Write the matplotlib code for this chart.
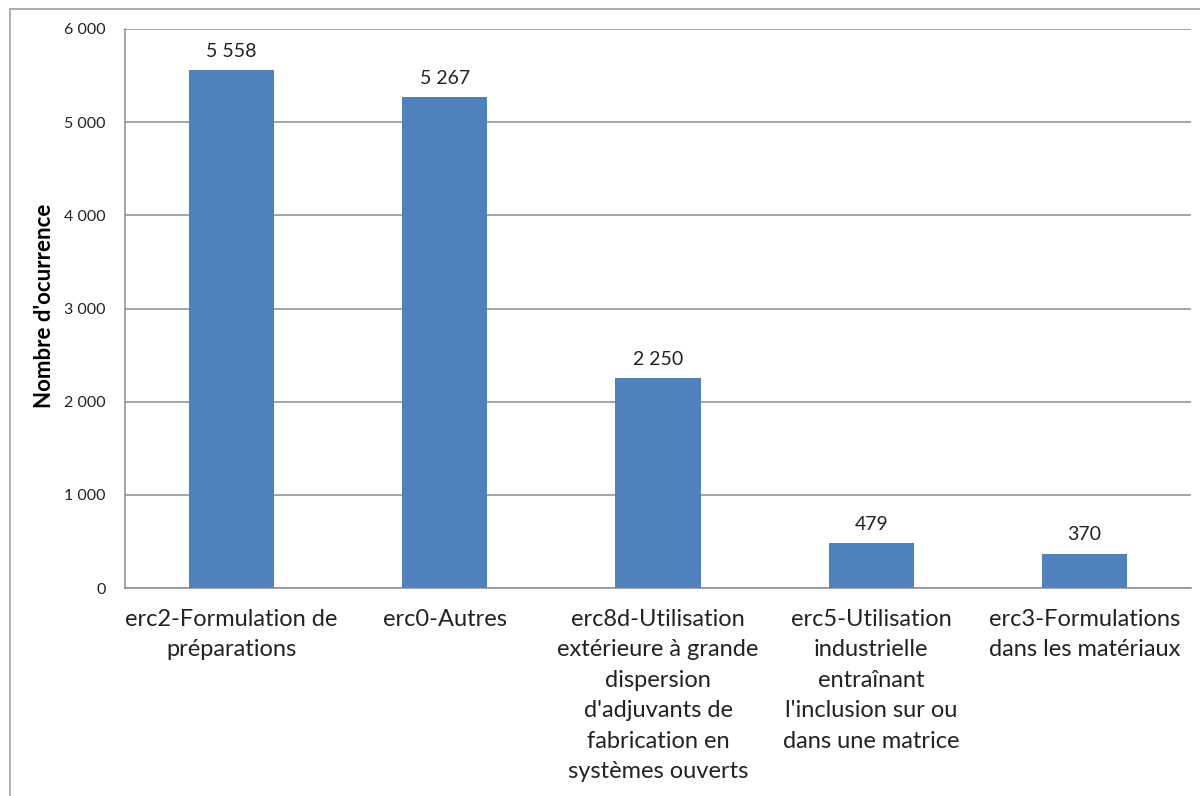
import matplotlib
matplotlib.use("Agg")
import matplotlib.pyplot as plt
from matplotlib.patches import Rectangle

categories = [
    "erc2-Formulation de\npréparations",
    "erc0-Autres",
    "erc8d-Utilisation\nextérieure à grande\ndispersion\nd'adjuvants de\nfabrication en\nsystèmes ouverts",
    "erc5-Utilisation\nindustrielle\nentraînant\nl'inclusion sur ou\ndans une matrice",
    "erc3-Formulations\ndans les matériaux",
]
values = [5558, 5267, 2250, 479, 370]
yticks = [0, 1000, 2000, 3000, 4000, 5000, 6000]


def fmt(v):
    return f"{v:,}".replace(",", " ")


plt.rcParams["font.family"] = ["Lato", "DejaVu Sans"]

W, H = 1200, 796
fig = plt.figure(figsize=(12, 7.96), dpi=100)
ax = fig.add_axes([125 / W, 1 - 588 / H, (1191 - 125) / W, (588 - 29) / H])

# outer chart frame
fig.patches.append(Rectangle((10 / W, -0.1), 1.2, 1 - 9 / H + 0.1,
                             transform=fig.transFigure, fill=False,
                             edgecolor="#a0a0a0", linewidth=1.2))

x = range(len(values))
ax.bar(x, values, width=0.4, color="#4f81bd", zorder=3)
for i, v in zip(x, values):
    ax.text(i, v + 110, fmt(v), ha="center", va="bottom", fontsize=14, color="#222222")

ax.set_xlim(-0.5, len(values) - 0.5)
ax.set_ylim(0, 6000)
ax.set_yticks(yticks)
ax.set_yticklabels([fmt(t) for t in yticks], fontsize=11.5, color="#222222")
ax.set_xticks(list(x))
ax.set_xticklabels(categories, fontsize=17, linespacing=1.56, va="top", color="#222222")
ax.tick_params(axis="x", length=0, pad=15)
ax.tick_params(axis="y", length=0, pad=14)
ax.yaxis.grid(True, color="#8c8c8c", linewidth=1.1, zorder=0)

for s in ["top", "right"]:
    ax.spines[s].set_visible(False)
for s in ["left", "bottom"]:
    ax.spines[s].set_color("#8c8c8c")
    ax.spines[s].set_linewidth(1.1)

fig.text(45 / W, 1 - 306 / H, "Nombre d'ocurrence", rotation=90, ha="center",
         va="center", fontsize=16, fontweight="bold")

fig.savefig("out.png", dpi=100)
